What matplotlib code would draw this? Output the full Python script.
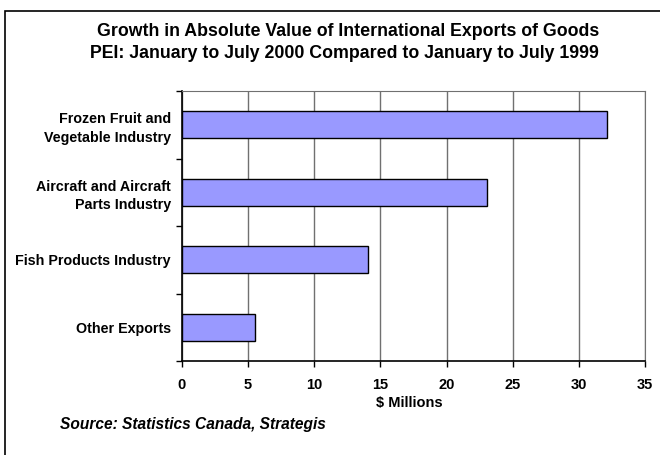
import matplotlib
matplotlib.use("Agg")
import matplotlib.pyplot as plt
from matplotlib.patches import Rectangle

categories = ["Frozen Fruit and\nVegetable Industry", "Aircraft and Aircraft\nParts Industry",
              "Fish Products Industry", "Other Exports"]
values = [32.1, 23.05, 14.05, 5.5]
xticks = [0, 5, 10, 15, 20, 25, 30, 35]

plt.rcParams['font.family'] = ['Liberation Sans', 'DejaVu Sans']

W, H = 660, 455
fig = plt.figure(figsize=(W/100, H/100), dpi=100)
# outer border (extends past the right and bottom edges of the image)
fig.patches.append(Rectangle((5/W, -0.05), 1.1, 1.05 - 11/H, transform=fig.transFigure,
                             fill=False, edgecolor='black', linewidth=1.2))

left, right, top, bottom = 182, 645, 91, 361
ax = fig.add_axes([left/W, 1 - bottom/H, (right-left)/W, (bottom-top)/H])

n = len(categories)
ypos = list(range(n))
ax.barh(ypos, values, height=0.4, color='#9999FF', edgecolor='black', linewidth=1.0, zorder=3)
ax.set_ylim(n - 0.5, -0.5)
ax.set_xlim(0, 35)
ax.set_xticks(xticks)
ax.set_xticklabels([str(t) for t in xticks], fontsize=10.5, fontweight='bold')
ax.set_yticks(ypos)
ax.set_yticklabels(categories, fontsize=10.3, fontweight='bold', linespacing=1.4)
ax.tick_params(axis='y', length=0, pad=8)
ax.set_yticks([i + 0.5 for i in range(-1, n)], minor=True)
ax.tick_params(axis='y', which='minor', length=4, direction='out', width=1)
ax.tick_params(axis='x', length=4, direction='out', width=1, pad=8)
ax.xaxis.grid(True, color='#707070', linewidth=1.0, zorder=0)
ax.set_axisbelow(True)
for s in ['top', 'right']:
    ax.spines[s].set_color('#707070')
for s in ['left', 'bottom']:
    ax.spines[s].set_linewidth(1.2)

fig.text(409/W, 1 - 403/H, "$ Millions", ha='center', va='center',
         fontsize=10.5, fontweight='bold')
fig.text(348/W, 1 - 32/H, "Growth in Absolute Value of International Exports of Goods",
         ha='center', va='center', fontsize=12.8, fontweight='bold')
fig.text(344/W, 1 - 53/H, "PEI: January to July 2000 Compared to January to July 1999",
         ha='center', va='center', fontsize=12.8, fontweight='bold')
fig.text(60/W, 1 - 424/H, "Source: Statistics Canada, Strategis",
         ha='left', va='center', fontsize=11.2, fontweight='bold', style='italic')

fig.savefig("out.png", dpi=100)
